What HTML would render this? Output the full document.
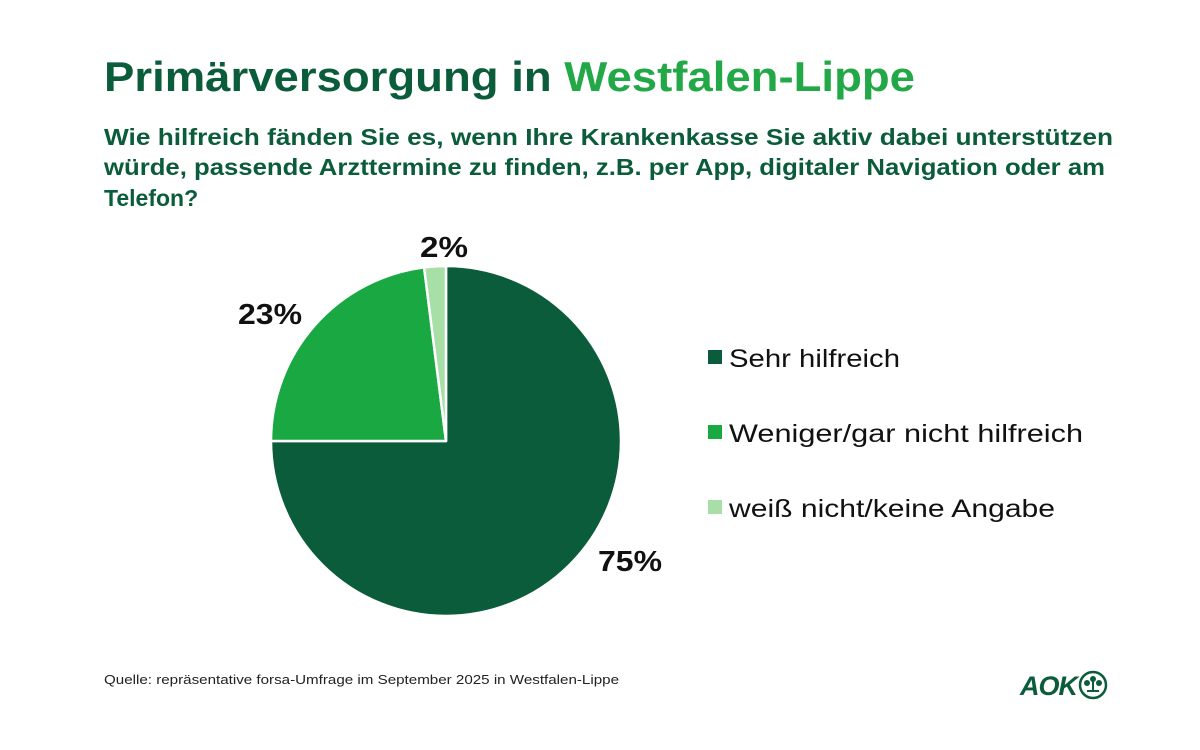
<!DOCTYPE html>
<html><head><meta charset="utf-8"><style>
body{margin:0;background:#fff;width:1200px;height:750px;overflow:hidden;font-family:"Liberation Sans","DejaVu Sans",sans-serif;}
</style></head><body>
<svg width="1200" height="750" xmlns="http://www.w3.org/2000/svg" style="position:absolute;left:0;top:0">
<text x="104" y="91" font-size="42" font-weight="bold" fill="#0b5c3a" textLength="811" lengthAdjust="spacingAndGlyphs">Primärversorgung in <tspan fill="#22a846">Westfalen-Lippe</tspan></text>
<g font-size="23" font-weight="bold" fill="#0b5c3a">
<text x="104" y="145" textLength="1009" lengthAdjust="spacingAndGlyphs">Wie hilfreich fänden Sie es, wenn Ihre Krankenkasse Sie aktiv dabei unterstützen</text>
<text x="104" y="175" textLength="1001" lengthAdjust="spacingAndGlyphs">würde, passende Arzttermine zu finden, z.B. per App, digitaler Navigation oder am</text>
<text x="104" y="206">Telefon?</text>
</g>
<g stroke="#fff" stroke-width="2.5" stroke-linejoin="round">
<path d="M446,441 L446,266 A175,175 0 1 1 271,441 Z" fill="#0b5c3a"/>
<path d="M446,441 L271,441 A175,175 0 0 1 424.1,267.4 Z" fill="#1aa843"/>
<path d="M446,441 L424.1,267.4 A175,175 0 0 1 446,266 Z" fill="#a8dfa6"/>
</g>
<g font-size="29" font-weight="bold" fill="#111">
<text x="420" y="257" textLength="48" lengthAdjust="spacingAndGlyphs">2%</text>
<text x="238" y="324" textLength="64" lengthAdjust="spacingAndGlyphs">23%</text>
<text x="598" y="571" textLength="64" lengthAdjust="spacingAndGlyphs">75%</text>
</g>
<rect x="708" y="350" width="14" height="14" fill="#0b5c3a"/>
<rect x="708" y="425" width="14" height="14" fill="#1aa843"/>
<rect x="708" y="500" width="14" height="14" fill="#a8dfa6"/>
<g font-size="25" fill="#111">
<text x="729" y="367" textLength="171" lengthAdjust="spacingAndGlyphs">Sehr hilfreich</text>
<text x="729" y="442" textLength="354" lengthAdjust="spacingAndGlyphs">Weniger/gar nicht hilfreich</text>
<text x="729" y="517" textLength="326" lengthAdjust="spacingAndGlyphs">weiß nicht/keine Angabe</text>
</g>
<text x="104" y="684" font-size="13" fill="#222" textLength="515" lengthAdjust="spacingAndGlyphs">Quelle: repräsentative forsa-Umfrage im September 2025 in Westfalen-Lippe</text>
<text x="1020" y="695" font-size="27" font-weight="bold" font-style="italic" fill="#0b5c3a" letter-spacing="-1">AOK</text>
<circle cx="1093" cy="685" r="13" fill="none" stroke="#0b5c3a" stroke-width="2.5"/>
<g fill="#0b5c3a"><circle cx="1093" cy="679" r="3"/><circle cx="1087" cy="683" r="3"/><circle cx="1099" cy="683" r="3"/><rect x="1092" y="681" width="2" height="10"/><rect x="1087" y="690" width="12" height="2"/></g>
</svg>
</body></html>
